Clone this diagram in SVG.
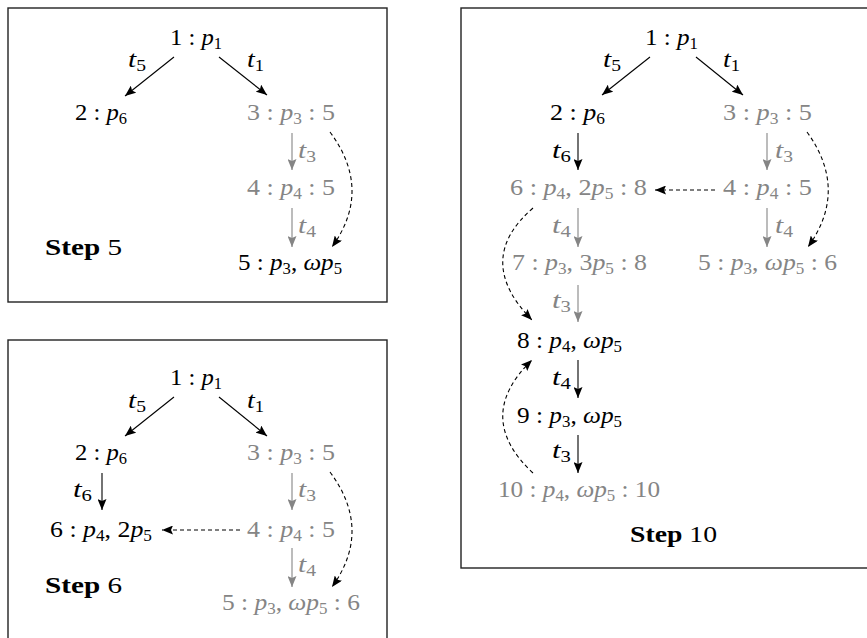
<svg xmlns="http://www.w3.org/2000/svg" width="867" height="638" viewBox="0 0 867 638" font-family="'Liberation Serif', 'DejaVu Serif', serif">
<style>
text { font-size: 24px; fill: #000; }
.g { fill: #858585; }
.i { font-style: italic; }
.s { font-size: 16px; }
.b { font-weight: bold; }
.box { fill: #fff; stroke: #222; stroke-width: 1.4; }
.e { stroke: #000; stroke-width: 1.1; fill: none; marker-end: url(#ah); }
.eg { stroke: #858585; stroke-width: 1.1; fill: none; marker-end: url(#ahg); }
.d { stroke: #000; stroke-width: 1.1; fill: none; stroke-dasharray: 4 3; marker-end: url(#ah); }
</style>
<defs>
<marker id="ah" markerUnits="userSpaceOnUse" markerWidth="12" markerHeight="9" refX="11" refY="4.5" orient="auto">
<path d="M0,0 L11,4.5 L0,9 L2,4.5 z" fill="#000"/>
</marker>
<marker id="ahg" markerUnits="userSpaceOnUse" markerWidth="12" markerHeight="9" refX="11" refY="4.5" orient="auto">
<path d="M0,0 L11,4.5 L0,9 L2,4.5 z" fill="#858585"/>
</marker>
</defs>
<rect width="867" height="638" fill="#fff"/>

<!-- Panel: Step 5 -->
<g id="panel-step5">
<rect class="box" x="8" y="8" width="379" height="294"/>
<g id="s5-edges">
<line class="e" x1="174" y1="57" x2="125" y2="96"/>
<line class="e" x1="219" y1="57" x2="267" y2="95"/>
<line class="eg" x1="292" y1="133" x2="292" y2="170"/>
<line class="eg" x1="292" y1="208" x2="292" y2="247"/>
<path class="d" d="M330,132 Q373,190 332,247"/>
<text x="128" y="67" textLength="18" lengthAdjust="spacingAndGlyphs"><tspan class="i">t</tspan><tspan class="s" dy="4">5</tspan></text>
<text x="247" y="67" textLength="17" lengthAdjust="spacingAndGlyphs"><tspan class="i">t</tspan><tspan class="s" dy="4">1</tspan></text>
<text class="g" x="298" y="158" textLength="18" lengthAdjust="spacingAndGlyphs"><tspan class="i">t</tspan><tspan class="s" dy="4">3</tspan></text>
<text class="g" x="298" y="233" textLength="18" lengthAdjust="spacingAndGlyphs"><tspan class="i">t</tspan><tspan class="s" dy="4">4</tspan></text>
</g>
<g id="s5-n1"><text x="170" y="45" textLength="52" lengthAdjust="spacingAndGlyphs">1 : <tspan class="i">p</tspan><tspan class="s" dy="4">1</tspan></text></g>
<g id="s5-n2"><text x="75" y="120" textLength="52" lengthAdjust="spacingAndGlyphs">2 : <tspan class="i">p</tspan><tspan class="s" dy="4">6</tspan></text></g>
<g id="s5-n3"><text class="g" x="247" y="120" textLength="88" lengthAdjust="spacingAndGlyphs">3 : <tspan class="i">p</tspan><tspan class="s" dy="4">3</tspan><tspan dy="-4"> : 5</tspan></text></g>
<g id="s5-n4"><text class="g" x="247" y="195" textLength="88" lengthAdjust="spacingAndGlyphs">4 : <tspan class="i">p</tspan><tspan class="s" dy="4">4</tspan><tspan dy="-4"> : 5</tspan></text></g>
<g id="s5-n5"><text x="238" y="270" textLength="104" lengthAdjust="spacingAndGlyphs">5 : <tspan class="i">p</tspan><tspan class="s" dy="4">3</tspan><tspan dy="-4">, </tspan><tspan class="i">ωp</tspan><tspan class="s" dy="4">5</tspan></text></g>
<text x="45" y="255" textLength="77" lengthAdjust="spacingAndGlyphs"><tspan class="b">Step</tspan> 5</text>
</g>

<!-- Panel: Step 6 -->
<g id="panel-step6">
<rect class="box" x="8" y="340" width="379" height="320"/>
<g id="s6-edges">
<line class="e" x1="174" y1="397" x2="125" y2="436"/>
<line class="e" x1="219" y1="397" x2="267" y2="436"/>
<line class="e" x1="102" y1="473" x2="102" y2="510"/>
<line class="eg" x1="292" y1="473" x2="292" y2="510"/>
<line class="eg" x1="292" y1="548" x2="292" y2="587"/>
<line class="d" x1="240" y1="530" x2="162" y2="530"/>
<path class="d" d="M330,472 Q373,530 332,587"/>
<text x="128" y="408" textLength="18" lengthAdjust="spacingAndGlyphs"><tspan class="i">t</tspan><tspan class="s" dy="4">5</tspan></text>
<text x="247" y="408" textLength="17" lengthAdjust="spacingAndGlyphs"><tspan class="i">t</tspan><tspan class="s" dy="4">1</tspan></text>
<text x="73" y="497" textLength="19" lengthAdjust="spacingAndGlyphs"><tspan class="i">t</tspan><tspan class="s" dy="4">6</tspan></text>
<text class="g" x="298" y="497" textLength="18" lengthAdjust="spacingAndGlyphs"><tspan class="i">t</tspan><tspan class="s" dy="4">3</tspan></text>
<text class="g" x="298" y="572" textLength="18" lengthAdjust="spacingAndGlyphs"><tspan class="i">t</tspan><tspan class="s" dy="4">4</tspan></text>
</g>
<g id="s6-n1"><text x="170" y="385" textLength="52" lengthAdjust="spacingAndGlyphs">1 : <tspan class="i">p</tspan><tspan class="s" dy="4">1</tspan></text></g>
<g id="s6-n2"><text x="75" y="460" textLength="52" lengthAdjust="spacingAndGlyphs">2 : <tspan class="i">p</tspan><tspan class="s" dy="4">6</tspan></text></g>
<g id="s6-n3"><text class="g" x="247" y="460" textLength="88" lengthAdjust="spacingAndGlyphs">3 : <tspan class="i">p</tspan><tspan class="s" dy="4">3</tspan><tspan dy="-4"> : 5</tspan></text></g>
<g id="s6-n6"><text x="50" y="537" textLength="102" lengthAdjust="spacingAndGlyphs">6 : <tspan class="i">p</tspan><tspan class="s" dy="4">4</tspan><tspan dy="-4">, 2</tspan><tspan class="i">p</tspan><tspan class="s" dy="4">5</tspan></text></g>
<g id="s6-n4"><text class="g" x="247" y="537" textLength="88" lengthAdjust="spacingAndGlyphs">4 : <tspan class="i">p</tspan><tspan class="s" dy="4">4</tspan><tspan dy="-4"> : 5</tspan></text></g>
<g id="s6-n5"><text class="g" x="222" y="610" textLength="138" lengthAdjust="spacingAndGlyphs">5 : <tspan class="i">p</tspan><tspan class="s" dy="4">3</tspan><tspan dy="-4">, </tspan><tspan class="i">ωp</tspan><tspan class="s" dy="4">5</tspan><tspan dy="-4"> : 6</tspan></text></g>
<text x="45" y="593" textLength="77" lengthAdjust="spacingAndGlyphs"><tspan class="b">Step</tspan> 6</text>
</g>

<!-- Panel: Step 10 -->
<g id="panel-step10">
<rect class="box" x="461" y="8" width="420" height="560"/>
<g id="s10-edges">
<line class="e" x1="650" y1="57" x2="602" y2="95"/>
<line class="e" x1="696" y1="57" x2="743" y2="95"/>
<line class="e" x1="578" y1="133" x2="578" y2="170"/>
<line class="eg" x1="767" y1="133" x2="767" y2="170"/>
<line class="d" x1="715" y1="190" x2="655" y2="190"/>
<line class="eg" x1="578" y1="208" x2="578" y2="247"/>
<line class="eg" x1="767" y1="208" x2="767" y2="247"/>
<path class="d" d="M807,132 Q849,190 808,247"/>
<line class="eg" x1="578" y1="285" x2="578" y2="322"/>
<path class="d" d="M533,208 Q473,260 532,320"/>
<line class="e" x1="578" y1="360" x2="578" y2="398"/>
<line class="e" x1="578" y1="435" x2="578" y2="473"/>
<path class="d" d="M533,473 Q473,417 532,360"/>
<text x="603" y="67" textLength="18" lengthAdjust="spacingAndGlyphs"><tspan class="i">t</tspan><tspan class="s" dy="4">5</tspan></text>
<text x="723" y="67" textLength="17" lengthAdjust="spacingAndGlyphs"><tspan class="i">t</tspan><tspan class="s" dy="4">1</tspan></text>
<text x="552" y="158" textLength="19" lengthAdjust="spacingAndGlyphs"><tspan class="i">t</tspan><tspan class="s" dy="4">6</tspan></text>
<text class="g" x="775" y="158" textLength="18" lengthAdjust="spacingAndGlyphs"><tspan class="i">t</tspan><tspan class="s" dy="4">3</tspan></text>
<text class="g" x="552" y="233" textLength="19" lengthAdjust="spacingAndGlyphs"><tspan class="i">t</tspan><tspan class="s" dy="4">4</tspan></text>
<text class="g" x="775" y="233" textLength="18" lengthAdjust="spacingAndGlyphs"><tspan class="i">t</tspan><tspan class="s" dy="4">4</tspan></text>
<text class="g" x="552" y="308" textLength="19" lengthAdjust="spacingAndGlyphs"><tspan class="i">t</tspan><tspan class="s" dy="4">3</tspan></text>
<text x="552" y="385" textLength="19" lengthAdjust="spacingAndGlyphs"><tspan class="i">t</tspan><tspan class="s" dy="4">4</tspan></text>
<text x="552" y="458" textLength="19" lengthAdjust="spacingAndGlyphs"><tspan class="i">t</tspan><tspan class="s" dy="4">3</tspan></text>
</g>
<g id="s10-n1"><text x="645" y="45" textLength="53" lengthAdjust="spacingAndGlyphs">1 : <tspan class="i">p</tspan><tspan class="s" dy="4">1</tspan></text></g>
<g id="s10-n2"><text x="550" y="120" textLength="55" lengthAdjust="spacingAndGlyphs">2 : <tspan class="i">p</tspan><tspan class="s" dy="4">6</tspan></text></g>
<g id="s10-n3"><text class="g" x="723" y="120" textLength="89" lengthAdjust="spacingAndGlyphs">3 : <tspan class="i">p</tspan><tspan class="s" dy="4">3</tspan><tspan dy="-4"> : 5</tspan></text></g>
<g id="s10-n6"><text class="g" x="510" y="195" textLength="137" lengthAdjust="spacingAndGlyphs">6 : <tspan class="i">p</tspan><tspan class="s" dy="4">4</tspan><tspan dy="-4">, 2</tspan><tspan class="i">p</tspan><tspan class="s" dy="4">5</tspan><tspan dy="-4"> : 8</tspan></text></g>
<g id="s10-n4"><text class="g" x="723" y="195" textLength="89" lengthAdjust="spacingAndGlyphs">4 : <tspan class="i">p</tspan><tspan class="s" dy="4">4</tspan><tspan dy="-4"> : 5</tspan></text></g>
<g id="s10-n7"><text class="g" x="512" y="270" textLength="135" lengthAdjust="spacingAndGlyphs">7 : <tspan class="i">p</tspan><tspan class="s" dy="4">3</tspan><tspan dy="-4">, 3</tspan><tspan class="i">p</tspan><tspan class="s" dy="4">5</tspan><tspan dy="-4"> : 8</tspan></text></g>
<g id="s10-n5"><text class="g" x="698" y="270" textLength="139" lengthAdjust="spacingAndGlyphs">5 : <tspan class="i">p</tspan><tspan class="s" dy="4">3</tspan><tspan dy="-4">, </tspan><tspan class="i">ωp</tspan><tspan class="s" dy="4">5</tspan><tspan dy="-4"> : 6</tspan></text></g>
<g id="s10-n8"><text x="517" y="348" textLength="105" lengthAdjust="spacingAndGlyphs">8 : <tspan class="i">p</tspan><tspan class="s" dy="4">4</tspan><tspan dy="-4">, </tspan><tspan class="i">ωp</tspan><tspan class="s" dy="4">5</tspan></text></g>
<g id="s10-n9"><text x="517" y="423" textLength="105" lengthAdjust="spacingAndGlyphs">9 : <tspan class="i">p</tspan><tspan class="s" dy="4">3</tspan><tspan dy="-4">, </tspan><tspan class="i">ωp</tspan><tspan class="s" dy="4">5</tspan></text></g>
<g id="s10-n10"><text class="g" x="498" y="497" textLength="162" lengthAdjust="spacingAndGlyphs">10 : <tspan class="i">p</tspan><tspan class="s" dy="4">4</tspan><tspan dy="-4">, </tspan><tspan class="i">ωp</tspan><tspan class="s" dy="4">5</tspan><tspan dy="-4"> : 10</tspan></text></g>
<text x="630" y="542" textLength="87" lengthAdjust="spacingAndGlyphs"><tspan class="b">Step</tspan> 10</text>
</g>
</svg>
